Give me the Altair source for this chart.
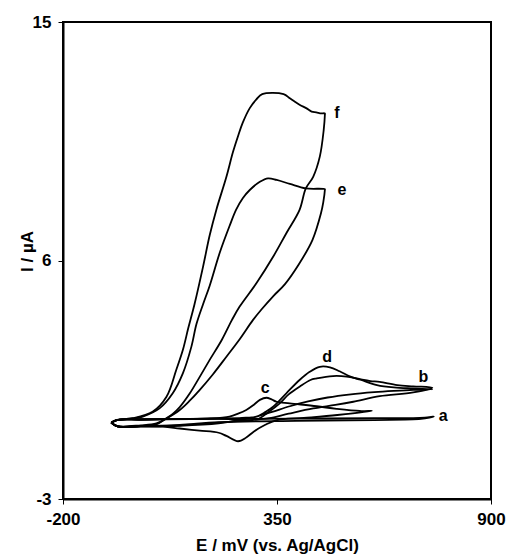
import altair as alt
import pandas as pd

# Potential (mV) and current (µA), one closed CV loop per curve
E_a = [-76, -62, 0, 200, 400, 600, 700, 730, 753, 720, 600, 400, 200, 100, 0, -60, -76]
I_a = [-0.12, -0.02, 0.0, 0.02, 0.03, 0.05, 0.05, 0.07, 0.11, 0.02, -0.02, -0.05, -0.1, -0.2, -0.25, -0.26, -0.12]

E_b = [-76, -62, 0, 100, 200, 297, 330, 357, 380, 408, 436, 452, 494, 529, 563, 590, 614, 659, 700, 749,
       700, 614, 546, 500, 443, 380, 330, 300, 200, 100, 0, -60, -76]
I_b = [-0.12, -0.02, 0.0, 0.02, 0.03, 0.0, 0.3, 0.61, 0.95, 1.24, 1.49, 1.55, 1.64, 1.62, 1.52, 1.45, 1.42, 1.30, 1.25, 1.2,
       1.02, 0.88, 0.67, 0.55, 0.42, 0.22, 0.05, 0.0, -0.12, -0.22, -0.26, -0.26, -0.12]

E_c = [-76, -62, 0, 100, 180, 228, 250, 271, 290, 306, 323, 336, 349, 383, 452, 503, 563, 594,
       505, 419, 350, 320, 290, 271, 250, 220, 200, 151, 100, 57, 0, -60, -76]
I_c = [-0.12, -0.02, 0.0, 0.02, 0.04, 0.11, 0.22, 0.36, 0.55, 0.74, 0.82, 0.76, 0.67, 0.61, 0.5, 0.4, 0.32, 0.33,
       0.17, 0.06, -0.02, -0.2, -0.46, -0.68, -0.82, -0.62, -0.5, -0.42, -0.34, -0.27, -0.26, -0.26, -0.12]

E_d = [-76, -62, 0, 100, 200, 260, 297, 320, 340, 374, 408, 434, 460, 486, 511, 537, 565, 607, 650, 700, 749,
       700, 650, 600, 540, 480, 430, 383, 340, 300, 270, 200, 100, 0, -60, -76]
I_d = [-0.12, -0.02, 0.0, 0.02, 0.04, 0.06, 0.11, 0.28, 0.48, 0.99, 1.49, 1.80, 1.99, 1.97, 1.82, 1.63, 1.50, 1.30, 1.21, 1.17, 1.14,
       1.12, 1.08, 1.03, 0.95, 0.83, 0.68, 0.5, 0.3, 0.12, 0.02, -0.15, -0.24, -0.26, -0.26, -0.12]

E_e = [-76, -62, -20, 5, 48, 82, 108, 130, 143, 160, 177, 203, 228, 245, 262, 280, 306, 327, 349, 383, 424, 473,
       473, 469, 463, 441, 405, 370, 340, 310, 288, 255, 220, 185, 151, 125, 100, 66, 40, 0, -60, -76]
I_e = [-0.12, -0.02, 0.04, 0.11, 0.42, 0.99, 1.74, 2.75, 3.6, 4.35, 5.05, 6.30, 7.30, 7.92, 8.35, 8.66, 8.97, 9.10, 9.04, 8.89, 8.72, 8.69,
       8.66, 8.2, 7.78, 6.77, 5.83, 5.1, 4.65, 4.15, 3.75, 3.05, 2.37, 1.7, 1.11, 0.7, 0.36, 0.04, -0.15, -0.22, -0.25, -0.12]

E_f = [-76, -62, -21, 30, 66, 91, 108, 122, 138, 160, 177, 194, 220, 237, 250, 262, 280, 297, 312, 367, 383, 396, 409, 426, 439, 451, 464, 473,
       473, 470, 460, 443, 424, 408, 374, 340, 297, 254, 234, 208, 177, 151, 126, 100, 82, 61, 40, 0, -60, -76]
I_f = [-0.12, -0.02, 0.05, 0.29, 0.86, 1.87, 2.62, 3.45, 4.35, 5.77, 6.95, 7.91, 9.16, 10.1, 10.7, 11.2, 11.75, 12.08, 12.28, 12.28, 12.12, 11.99, 11.87, 11.74, 11.62, 11.59, 11.55, 11.55,
       11.49, 10.92, 9.92, 9.16, 8.72, 7.91, 7.03, 6.14, 5.14, 4.26, 3.75, 3.0, 2.25, 1.6, 0.99, 0.47, 0.21, 0.0, -0.18, -0.24, -0.26, -0.12]

label_text = ["a", "b", "c", "d", "e", "f"]
label_E = [777, 726, 320, 479, 517, 504]
label_I = [0.13, 1.62, 1.18, 2.35, 8.66, 11.55]

x_ticks = [-200, 350, 900]
y_ticks = [-3, 6, 15]

curves = {"a": (E_a, I_a), "b": (E_b, I_b), "c": (E_c, I_c),
          "d": (E_d, I_d), "e": (E_e, I_e), "f": (E_f, I_f)}
rows = []
for name, (E, I) in curves.items():
    for k, (e, i) in enumerate(zip(E, I)):
        rows.append({"curve": name, "step": k, "E": e, "I": i})
df = pd.DataFrame(rows)
lab = pd.DataFrame({"label": label_text, "E": label_E, "I": label_I})

FONT = "Liberation Sans"

xs = alt.Scale(domain=[-200, 900], nice=False, zero=False)
ys = alt.Scale(domain=[-3, 15], nice=False, zero=False)

lines = alt.Chart(df).mark_line(color="black", strokeWidth=1.8,
                                interpolate="catmull-rom").encode(
    x=alt.X("E:Q", scale=xs,
            axis=alt.Axis(values=x_ticks, title="E / mV (vs. Ag/AgCl)",
                          labelExpr="toString(datum.value)",
                          labelPadding=7, labelFlush=False, labelOverlap=False,
                          titleY=51, titleBaseline="alphabetic")),
    y=alt.Y("I:Q", scale=ys,
            axis=alt.Axis(values=y_ticks, title="I / µA",
                          labelExpr="toString(datum.value)",
                          labelPadding=7, labelFlush=False, labelOverlap=False,
                          titleX=-31, titleY=229, titleBaseline="alphabetic",
                          titleAlign="center", titleAngle=270)),
    detail="curve:N",
    order="step:Q",
)

labels = alt.Chart(lab).mark_text(font=FONT, fontSize=16, fontWeight="bold",
                                  color="black", align="center", baseline="middle").encode(
    x=alt.X("E:Q", scale=xs),
    y=alt.Y("I:Q", scale=ys),
    text="label:N",
)

chart = alt.layer(lines, labels).properties(
    width=428, height=477,
    autosize=alt.AutoSizeParams(type="none"),
    padding={"left": 63, "top": 22, "right": 17, "bottom": 56},
    background="white",
).configure_view(
    stroke="black", strokeWidth=2
).configure_axis(
    grid=False,
    domainColor="black", domainWidth=2,
    tickColor="black", tickSize=5, tickWidth=1,
    labelFont=FONT, labelFontSize=17, labelFontWeight="bold", labelColor="black",
    titleFont=FONT, titleFontSize=17, titleFontWeight="bold", titleColor="black",
)

chart.save("out.html", embed_options={"renderer": "svg", "actions": False})
